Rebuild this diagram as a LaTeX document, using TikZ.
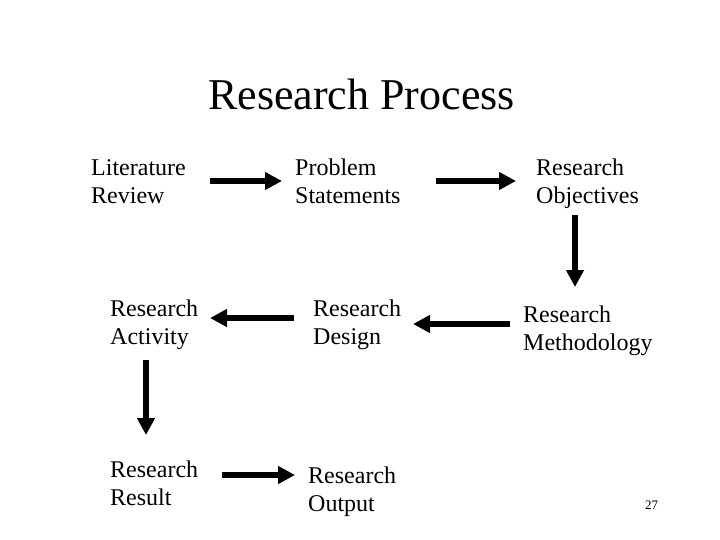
\documentclass[tikz,border=0pt]{standalone}
\usepackage{fontspec}
\setmainfont{Liberation Serif}
\usetikzlibrary{arrows.meta}
\begin{document}
\begin{tikzpicture}[x=1pt,y=-1pt,
  lbl/.style={anchor=base west,inner sep=0pt,align=left,font=\fontsize{24}{28}\selectfont},
  bigarrow/.style={line width=6.5pt,-{Triangle[length=17pt,width=17pt]}}]
\useasboundingbox[fill=white] (0,0) rectangle (720,540);
\node[anchor=base west,inner sep=0pt,font=\fontsize{44}{50}\selectfont] (title) at (208,110) {Research Process};
\node[lbl] (lit) at (91,204) {Literature\\Review};
\node[lbl] (prob) at (295,204) {Problem\\Statements};
\node[lbl] (obj) at (536,204) {Research\\Objectives};
\node[lbl] (act) at (110,344) {Research\\Activity};
\node[lbl] (des) at (313,344) {Research\\Design};
\node[lbl] (meth) at (523,350) {Research\\Methodology};
\node[lbl] (res) at (110,505) {Research\\Result};
\node[lbl] (out) at (308,511) {Research\\Output};
\node[anchor=base west,inner sep=0pt,font=\fontsize{13}{15}\selectfont] (pg) at (645,509) {27};
\coordinate (a1s) at (210,181); \coordinate (a1e) at (282,181);
\coordinate (a2s) at (436,181); \coordinate (a2e) at (516,181);
\coordinate (a3s) at (575,215); \coordinate (a3e) at (575,287);
\coordinate (a4s) at (510,324); \coordinate (a4e) at (413,324);
\coordinate (a5s) at (294,318); \coordinate (a5e) at (210,318);
\coordinate (a6s) at (146,360); \coordinate (a6e) at (146,435);
\coordinate (a7s) at (222,475); \coordinate (a7e) at (295,475);
\draw[bigarrow] (a1s) -- (a1e);
\draw[bigarrow] (a2s) -- (a2e);
\draw[bigarrow] (a3s) -- (a3e);
\draw[bigarrow] (a4s) -- (a4e);
\draw[bigarrow] (a5s) -- (a5e);
\draw[bigarrow] (a6s) -- (a6e);
\draw[bigarrow] (a7s) -- (a7e);
\end{tikzpicture}
\end{document}
